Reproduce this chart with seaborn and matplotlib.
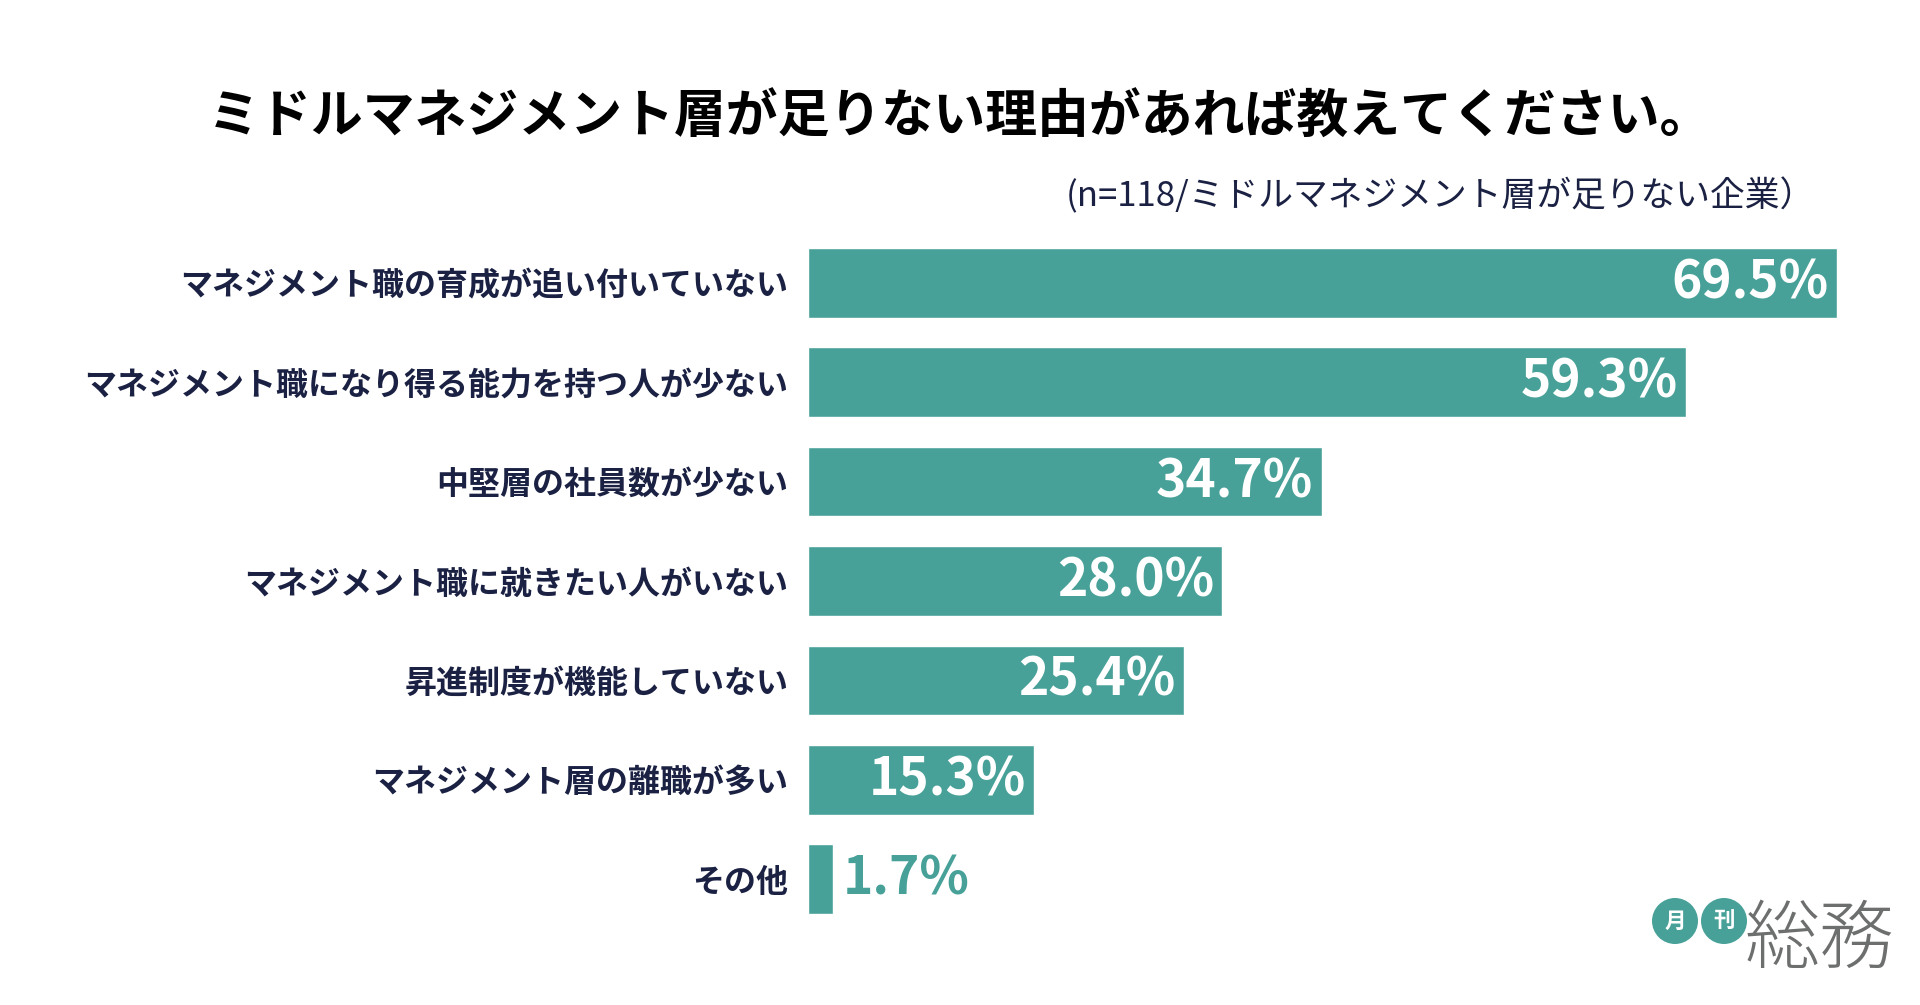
import matplotlib
matplotlib.use("Agg")
import matplotlib.pyplot as plt
import seaborn as sns
import pandas as pd
from matplotlib.patches import Ellipse

# ---- data ----
categories = [
    "マネジメント職の育成が追い付いていない",
    "マネジメント職になり得る能力を持つ人が少ない",
    "中堅層の社員数が少ない",
    "マネジメント職に就きたい人がいない",
    "昇進制度が機能していない",
    "マネジメント層の離職が多い",
    "その他",
]
values = [69.5, 59.3, 34.7, 28.0, 25.4, 15.3, 1.7]
title = "ミドルマネジメント層が足りない理由があれば教えてください。"
subtitle = "(n=118/ミドルマネジメント層が足りない企業）"

TEAL = "#48a198"
NAVY = "#1b2143"

sns.set_theme(style="white")
plt.rcParams["font.family"] = ["Noto Sans CJK JP", "DejaVu Sans"]

df = pd.DataFrame({"category": categories, "value": values})

fig = plt.figure(figsize=(19.2, 10.05), dpi=100)
fig.patch.set_facecolor("white")
W, H = 1920, 1005
left_px, right_px = 808, 808 + 72 * 14.8
top_px, bottom_px = 233, 929
ax = fig.add_axes([left_px / W, 1 - bottom_px / H,
                   (right_px - left_px) / W, (bottom_px - top_px) / H])

sns.barplot(data=df, x="value", y="category", orient="h", color=TEAL,
            saturation=1, width=0.7, ax=ax)
ax.set_xlim(0, 72)
ax.set_ylim(6.5, -0.5)
for s in ax.spines.values():
    s.set_visible(False)
ax.set_xticks([])
ax.set_xlabel("")
ax.set_ylabel("")
ax.tick_params(axis="y", length=0, pad=14)
for lab in ax.get_yticklabels():
    lab.set_fontsize(23)
    lab.set_fontweight("bold")
    lab.set_color(NAVY)

for i, v in enumerate(values):
    txt = f"{v:.1f}%"
    if v >= 10:
        ax.annotate(txt, xy=(v, i), xytext=(-6, 0), textcoords="offset points",
                    ha="right", va="center", fontsize=37, fontweight="bold",
                    color="white")
    else:
        ax.annotate(txt, xy=(v, i), xytext=(7, 0), textcoords="offset points",
                    ha="left", va="center", fontsize=37, fontweight="bold",
                    color=TEAL)

fig.text(960 / W, 1 - 117 / H, title, ha="center", va="center",
         fontsize=37.4, fontweight="bold", color="black")
fig.text(1815 / W, 1 - 196 / H, subtitle, ha="right", va="center",
         fontsize=25, color=NAVY)

# logo
for cx, ch in [(1675, "月"), (1724, "刊")]:
    e = Ellipse((cx / W, 1 - 921 / H), 46 / W, 46 / H,
                transform=fig.transFigure, facecolor=TEAL, edgecolor="none")
    fig.patches.append(e)
    fig.text(cx / W, 1 - 921 / H, ch, ha="center", va="center",
             fontsize=15.5, fontweight="bold", color="white")
fig.text(1820 / W, 1 - 941 / H, "総務", ha="center", va="center",
         fontsize=54, fontweight="light", color="#6d6f6e")

fig.savefig("out.png", dpi=100, facecolor="white")
